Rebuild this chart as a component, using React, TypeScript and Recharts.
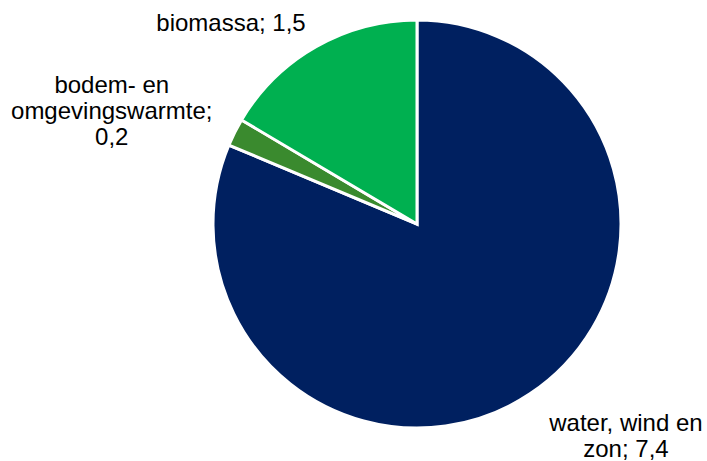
import { Cell, Pie, PieChart } from "recharts";

const categories = ["water, wind en zon", "bodem- en omgevingswarmte", "biomassa"];
const values = [7.4, 0.2, 1.5];
const valueLabels = ["7,4", "0,2", "1,5"];
const labelLines = [
  ["water, wind en", "zon; 7,4"],
  ["bodem- en", "omgevingswarmte;", "0,2"],
  ["biomassa; 1,5"]
];
const colors = ["#002060", "#3A8A2E", "#00B050"];

// offset of each label block from the slice's outer edge at midAngle
const labelOffsets = [
  { dx: 96, dy: 41 },
  { dx: -123, dy: -22 },
  { dx: -85, dy: -25 }
];

const data = categories.map((name, i) => ({ name, value: values[i], label: valueLabels[i] }));

const RADIAN = Math.PI / 180;

function renderLabel(props: any) {
  const { cx, cy, midAngle, outerRadius, index } = props;
  const x = cx + outerRadius * Math.cos(-midAngle * RADIAN) + labelOffsets[index].dx;
  const y = cy + outerRadius * Math.sin(-midAngle * RADIAN) + labelOffsets[index].dy;
  const lines = labelLines[index];
  const lh = 26;
  const top = y - ((lines.length - 1) * lh) / 2;
  return (
    <text
      x={x}
      y={top}
      textAnchor="middle"
      dominantBaseline="central"
      fill="#000"
      fontSize={24}
      fontFamily="Liberation Sans, Arial, sans-serif"
    >
      {lines.map((l, i) => (
        <tspan key={i} x={x} y={top + i * lh}>
          {l}
        </tspan>
      ))}
    </text>
  );
}

export default function App() {
  return (
    <div style={{ position: "absolute", left: 0, top: 0, width: 707, height: 461, background: "#fff" }}>
      <PieChart width={707} height={461} margin={{ top: 0, right: 0, bottom: 0, left: 0 }}>
        <Pie
          data={data}
          dataKey="value"
          nameKey="name"
          cx={417}
          cy={224}
          outerRadius={204}
          startAngle={90}
          endAngle={-270}
          stroke="#fff"
          strokeWidth={3}
          label={renderLabel}
          labelLine={false}
          isAnimationActive={false}
        >
          {data.map((d, i) => (
            <Cell key={d.name} fill={colors[i]} />
          ))}
        </Pie>
      </PieChart>
    </div>
  );
}
